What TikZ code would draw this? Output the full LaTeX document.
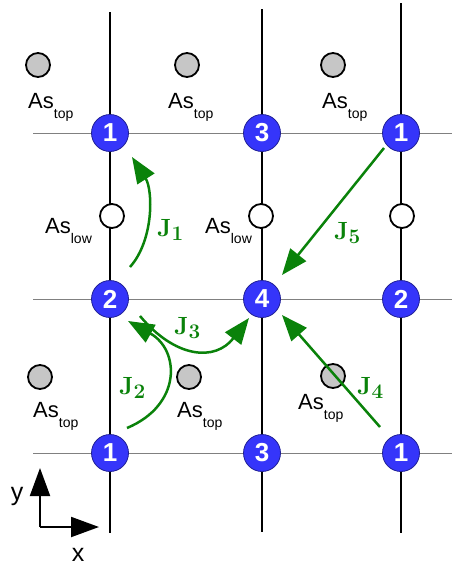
\documentclass[tikz,border=0pt]{standalone}
\usepackage[no-math]{fontspec}
\setmainfont{Liberation Sans}
\usetikzlibrary{arrows.meta}
\definecolor{bl}{HTML}{3535FA}
\definecolor{gr}{HTML}{0A820A}
\newcommand{\asub}[1]{As\raisebox{-10pt}{\fontsize{14}{14}\selectfont #1}}
\newcommand{\jsub}[1]{$\mathbf{J}_{\mathbf{#1}}$}
\begin{document}
\begin{tikzpicture}[x=1pt,y=-1pt,
 site/.style={circle, fill=bl, draw=bl!60!black, line width=0.8pt, minimum size=37pt, inner sep=0pt, text=white, font=\fontsize{26}{26}\selectfont\bfseries},
 astop/.style={circle, fill=gray!45, draw=black, line width=1.8pt, minimum size=24pt, inner sep=0pt},
 aslow/.style={circle, fill=white, draw=black, line width=1.8pt, minimum size=24pt, inner sep=0pt},
 lab/.style={font=\fontsize{22}{22}\selectfont, inner sep=0pt, anchor=base west},
 vline/.style={draw=black, line width=1.6pt},
 hline/.style={draw=gray, line width=0.9pt},
 jump/.style={draw=gr, line width=2.5pt, -{Triangle[length=26pt,width=20pt]}},
 jl/.style={text=gr, font=\fontsize{30}{30}\selectfont, inner sep=0pt, anchor=base west},
 axis/.style={draw=black, line width=2pt, -{Triangle[length=28pt,width=20pt]}}
]
\useasboundingbox (0,0) rectangle (454,571);
% grid lines
\draw[hline] (33,133) -- (452,133);
\draw[hline] (33,299) -- (452,299);
\draw[hline] (33,453) -- (452,453);
\draw[vline] (110,12) -- (110,533);
\draw[vline] (262,9) -- (262,532);
\draw[vline] (401,3) -- (401,533);
% As atoms
\node[astop] (t1) at (38,65) {};
\node[astop] (t2) at (187,65) {};
\node[astop] (t3) at (333,65) {};
\node[astop] (t4) at (40,377) {};
\node[astop] (t5) at (189,377) {};
\node[astop] (t6) at (333,376) {};
\node[aslow] (l1) at (112,216) {};
\node[aslow] (l2) at (261,216) {};
\node[aslow] (l3) at (402,216) {};
% labels
\node[lab] (lt1) at (28,108) {\asub{top}};
\node[lab] (lt2) at (168,108) {\asub{top}};
\node[lab] (lt3) at (322,108) {\asub{top}};
\node[lab] (lt4) at (33,417) {\asub{top}};
\node[lab] (lt5) at (177,417) {\asub{top}};
\node[lab] (lt6) at (298,409) {\asub{top}};
\node[lab] (ll1) at (45,233) {\asub{low}};
\node[lab] (ll2) at (205,233) {\asub{low}};
% sites
\node[site] (a1) at (110,133) {1};
\node[site] (a2) at (262,133) {3};
\node[site] (a3) at (401,133) {1};
\node[site] (b1) at (110,299) {2};
\node[site] (b2) at (262,299) {4};
\node[site] (b3) at (401,299) {2};
\node[site] (c1) at (110,453) {1};
\node[site] (c2) at (262,453) {3};
\node[site] (c3) at (401,453) {1};
% jumps
\coordinate (s1) at (130,267);
\coordinate (e1) at (132,157);
\coordinate (s2) at (127,428);
\coordinate (e2) at (128,321);
\coordinate (s3) at (140,316);
\coordinate (e3) at (249,318);
\coordinate (s4) at (380,427);
\coordinate (e4) at (282,315);
\coordinate (s5) at (384,148);
\coordinate (e5) at (282,275);
\draw[jump] (s1) .. controls (154,240) and (153,190) .. (e1);
\draw[jump] (s2) .. controls (182,405) and (180,350) .. (e2);
\draw[jump] (s3) .. controls (175,358) and (215,362) .. (e3);
\draw[jump] (s4) -- (e4);
\draw[jump] (s5) -- (e5);
\node[jl] (j1) at (157,236) {\jsub{1}};
\node[jl] (j2) at (119,394) {\jsub{2}};
\node[jl] (j3) at (174,334) {\jsub{3}};
\node[jl] (j4) at (357,394) {\jsub{4}};
\node[jl] (j5) at (334,239) {\jsub{5}};
% axes
\coordinate (o) at (40,527);
\coordinate (ay) at (40,468);
\coordinate (ax) at (99,527);
\draw[axis] (o) -- (ay);
\draw[axis] (o) -- (ax);
\node[font=\fontsize{25}{25}\selectfont, inner sep=0pt] (ylab) at (17,496) {y};
\node[font=\fontsize{25}{25}\selectfont, inner sep=0pt] (xlab) at (78,555) {x};
\end{tikzpicture}
\end{document}
